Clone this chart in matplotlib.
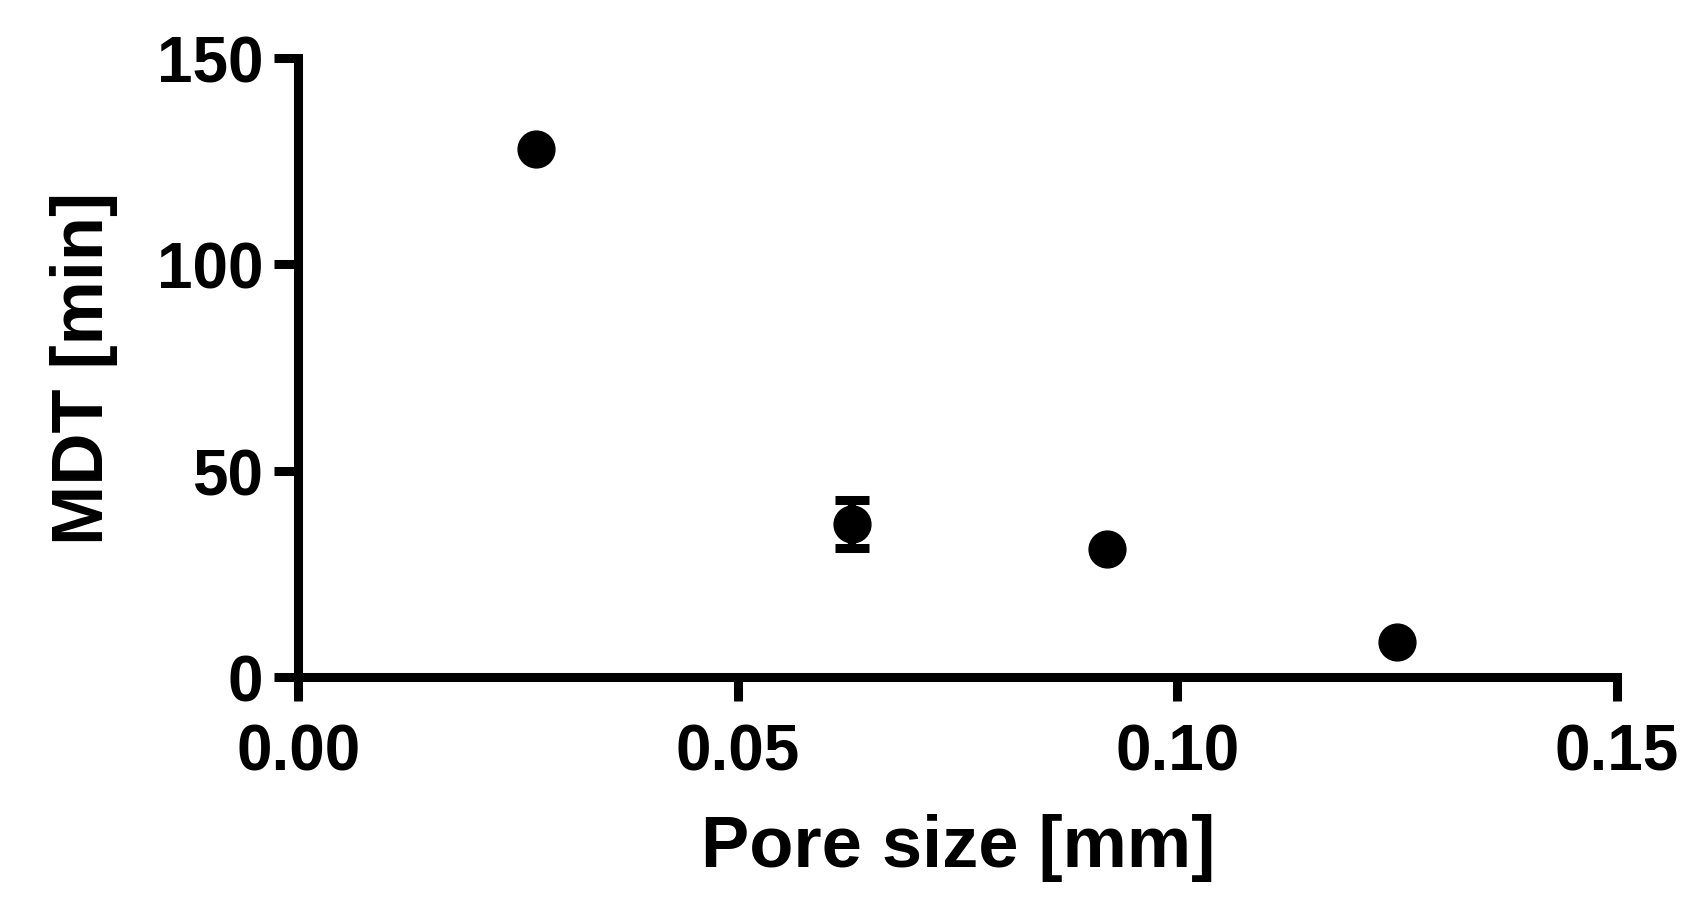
import matplotlib
matplotlib.use("Agg")
import matplotlib.pyplot as plt
from matplotlib import font_manager

# Data
pore_size = [0.027, 0.063, 0.092, 0.125]
mdt = [128.0, 37.0, 31.0, 8.5]
mdt_err = [0.0, 5.8, 0.0, 0.0]

x_ticks = [0.00, 0.05, 0.10, 0.15]
x_tick_labels = ["0.00", "0.05", "0.10", "0.15"]
y_ticks = [0, 50, 100, 150]

names = {f.name for f in font_manager.fontManager.ttflist}
if 'Liberation Sans Narrow' in names:
    family = ['Liberation Sans Narrow', 'DejaVu Sans']
    tick_size, label_size = 50, 56
else:
    family = ['Liberation Sans', 'DejaVu Sans']
    tick_size, label_size = 46, 52

plt.rcParams['font.family'] = family
plt.rcParams['font.weight'] = 'bold'

fig = plt.figure(figsize=(17.04, 9.12), dpi=100)
ax = fig.add_axes([0.175, 0.2566, 0.774, 0.6786])

ax.errorbar(pore_size, mdt, yerr=mdt_err, fmt='o', color='black',
            markersize=26.5, elinewidth=6, capsize=12.5, capthick=6.5,
            clip_on=False, zorder=3)

ax.set_xlim(0, 0.15)
ax.set_ylim(0, 150)
ax.set_xticks(x_ticks)
ax.set_xticklabels(x_tick_labels)
ax.set_yticks(y_ticks)

for side in ['top', 'right']:
    ax.spines[side].set_visible(False)
for side in ['left', 'bottom']:
    ax.spines[side].set_linewidth(6.5)
    ax.spines[side].set_capstyle('projecting')

ax.tick_params(axis='both', which='major', length=17, width=6.5,
               labelsize=tick_size, direction='out')
ax.tick_params(axis='x', pad=16)
ax.tick_params(axis='y', pad=8)
for lab in ax.get_xticklabels() + ax.get_yticklabels():
    lab.set_fontweight('bold')

ax.set_xlabel('Pore size [mm]', fontsize=label_size, fontweight='bold', labelpad=22)
ax.set_ylabel('MDT [min]', fontsize=label_size, fontweight='bold', labelpad=28)

fig.savefig('out.png', dpi=100)
